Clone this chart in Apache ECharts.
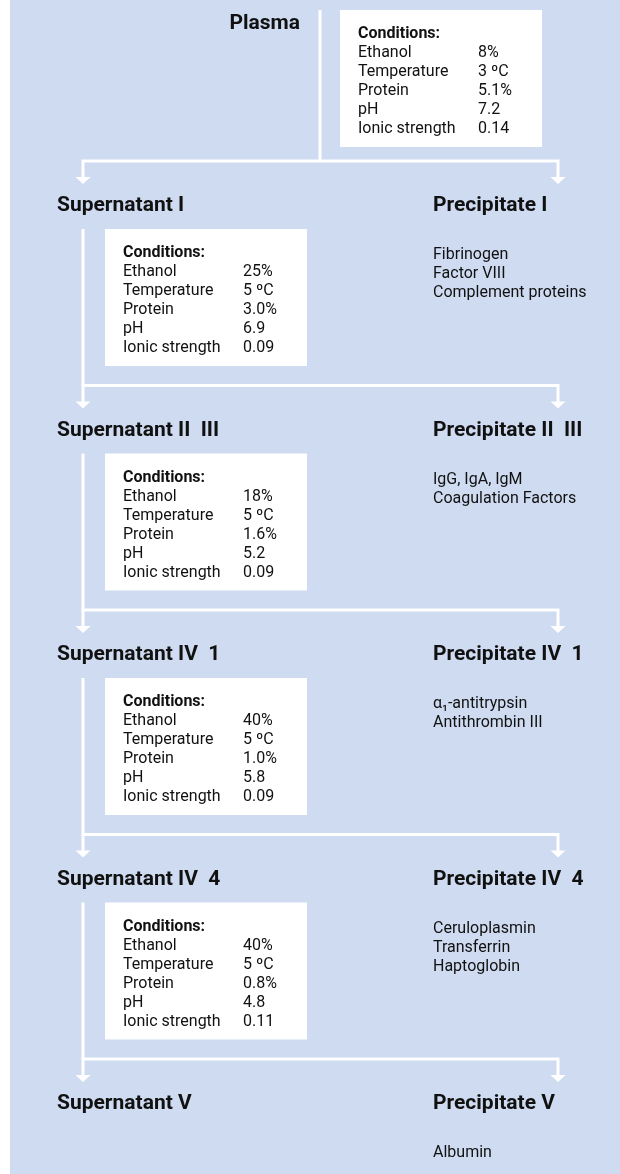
<!DOCTYPE html>
<html>
<head>
<meta charset="utf-8">
<script src="https://cdn.jsdelivr.net/npm/echarts@6/dist/echarts.min.js"></script>
<style>
  html, body { margin: 0; padding: 0; background: #fff; }
  #chart { width: 620px; height: 1174px; }
</style>
</head>
<body>
<div id="chart"></div>
<script>
  // flow data
  var source = 'Plasma';
  var supernatants = ['Supernatant I', 'Supernatant II  III', 'Supernatant IV  1', 'Supernatant IV  4', 'Supernatant V'];
  var precipitates = ['Precipitate I', 'Precipitate II  III', 'Precipitate IV  1', 'Precipitate IV  4', 'Precipitate V'];
  var conditionLabels = ['Ethanol', 'Temperature', 'Protein', 'pH', 'Ionic strength'];
  var ethanol = ['8%', '25%', '18%', '40%', '40%'];
  var temperature = ['3 ºC', '5 ºC', '5 ºC', '5 ºC', '5 ºC'];
  var protein = ['5.1%', '3.0%', '1.6%', '1.0%', '0.8%'];
  var pH = ['7.2', '6.9', '5.2', '5.8', '4.8'];
  var ionicStrength = ['0.14', '0.09', '0.09', '0.09', '0.11'];
  var precipitateContents = [
    ['Fibrinogen', 'Factor VIII', 'Complement proteins'],
    ['IgG, IgA, IgM', 'Coagulation Factors'],
    ['α₁-antitrypsin', 'Antithrombin III'],
    ['Ceruloplasmin', 'Transferrin', 'Haptoglobin'],
    ['Albumin']
  ];

  // layout (px, axis units == px)
  var W = 620, H = 1174;
  var FIRST_BRANCH = 161, STEP = 224.5;
  var LEFT_X = 83, RIGHT_X = 558, PLASMA_X = 320;
  var BOX_W = 202, BOX_H = 137;
  var FONT = 'Roboto, "Noto Sans", sans-serif';
  var BODY = '16px ' + FONT;
  var HEAD = 'bold 21px ' + FONT;
  var TXT = '#111';
  var LINE = '#ffffff';

  function branchY(k) { return FIRST_BRANCH + STEP * k; }
  function headY(k) { return branchY(k) + 45; }
  function boxTop(j) { return j === 0 ? 10 : branchY(j - 1) + 68; }
  function boxLeft(j) { return j === 0 ? 340 : 105; }

  var chart = echarts.init(document.getElementById('chart'));

  function pt(api, x, y) { return api.coord([x, y]); }
  function txt(api, x, y, text, font, align) {
    var p = pt(api, x, y);
    return { type: 'text', x: p[0], y: p[1], style: { text: text, fill: TXT, font: font,
      textAlign: align || 'left', textVerticalAlign: 'middle' } };
  }

  var option = {
    animation: false,
    grid: { left: 0, right: 0, top: 0, bottom: 0 },
    xAxis: { type: 'value', min: 0, max: W, show: false },
    yAxis: { type: 'value', min: 0, max: H, inverse: true, show: false },
    series: [{
      // background panel
      type: 'custom',
      data: [0],
      silent: true,
      z: 0,
      renderItem: function (params, api) {
        var a = pt(api, 10, 0), b = pt(api, W, H);
        return { type: 'rect', shape: { x: a[0], y: a[1], width: b[0] - a[0], height: b[1] - a[1] },
          style: { fill: '#cfdbf1' } };
      }
    }, {
      // connectors and arrows
      type: 'custom',
      data: [0, 1, 2, 3, 4],
      silent: true,
      z: 1,
      renderItem: function (params, api) {
        var k = params.dataIndex;
        var by = branchY(k);
        var sx = k === 0 ? PLASMA_X : LEFT_X;
        var sy = k === 0 ? 10 : boxTop(k);
        var children = [];
        var s0 = pt(api, sx, sy), s1 = pt(api, sx, by);
        children.push({ type: 'line', shape: { x1: s0[0], y1: s0[1], x2: s1[0], y2: s1[1] },
          style: { stroke: LINE, lineWidth: 3 } });
        children.push({ type: 'polyline', shape: { points: [
          pt(api, LEFT_X, by + 17), pt(api, LEFT_X, by), pt(api, RIGHT_X, by), pt(api, RIGHT_X, by + 17)] },
          style: { stroke: LINE, lineWidth: 3, fill: null } });
        [LEFT_X, RIGHT_X].forEach(function (x) {
          children.push({ type: 'polygon', shape: { points: [
            pt(api, x - 7.5, by + 16), pt(api, x + 7.5, by + 16), pt(api, x, by + 23)] },
            style: { fill: LINE } });
        });
        return { type: 'group', children: children };
      }
    }, {
      // condition boxes
      type: 'custom',
      data: [0, 1, 2, 3, 4],
      silent: true,
      z: 2,
      renderItem: function (params, api) {
        var j = params.dataIndex;
        var top = boxTop(j), left = boxLeft(j);
        var a = pt(api, left, top), b = pt(api, left + BOX_W, top + BOX_H);
        var children = [{ type: 'rect', shape: { x: a[0], y: a[1], width: b[0] - a[0], height: b[1] - a[1] },
          style: { fill: '#ffffff' } }];
        children.push(txt(api, left + 18, top + 24, 'Conditions:', 'bold ' + BODY));
        var vals = [ethanol[j], temperature[j], protein[j], pH[j], ionicStrength[j]];
        conditionLabels.forEach(function (lab, i) {
          children.push(txt(api, left + 18, top + 43 + 19 * i, lab, BODY));
          children.push(txt(api, left + 138, top + 43 + 19 * i, vals[i], BODY));
        });
        return { type: 'group', children: children };
      }
    }, {
      // stage headings and precipitate contents
      type: 'custom',
      data: [0, 1, 2, 3, 4],
      silent: true,
      z: 3,
      renderItem: function (params, api) {
        var k = params.dataIndex;
        var hy = headY(k);
        var children = [];
        if (k === 0) children.push(txt(api, 300, 24, source, HEAD, 'right'));
        children.push(txt(api, 57, hy, supernatants[k], HEAD));
        children.push(txt(api, 433, hy, precipitates[k], HEAD));
        precipitateContents[k].forEach(function (name, i) {
          children.push(txt(api, 433, hy + 49 + 19 * i, name, BODY));
        });
        return { type: 'group', children: children };
      }
    }]
  };

  chart.setOption(option);
</script>
</body>
</html>
